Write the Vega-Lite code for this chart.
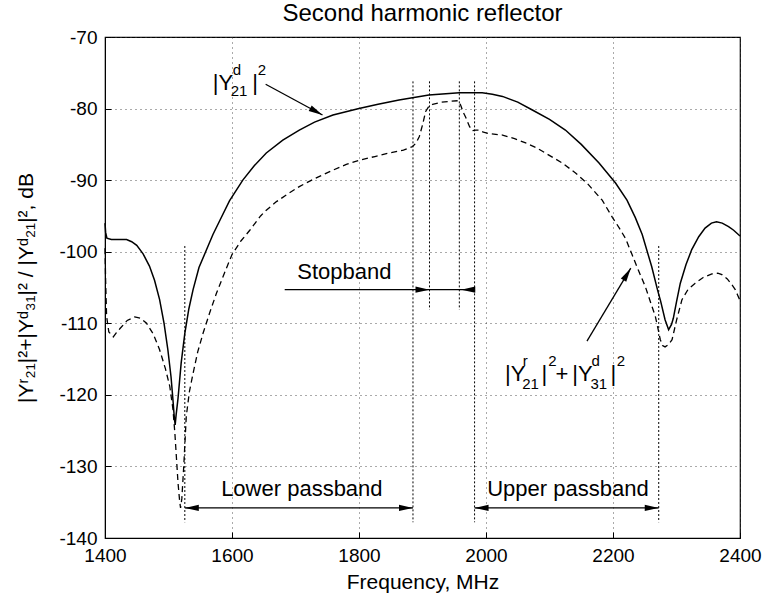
{
  "$schema": "https://vega.github.io/schema/vega-lite/v6.json",
  "width": 635,
  "height": 501,
  "autosize": {"type": "none"},
  "padding": {"left": 105, "top": 37, "right": 25, "bottom": 65},
  "background": "white",
  "title": {"text": "Second harmonic reflector", "fontSize": 24, "fontWeight": "normal", "font": "Liberation Sans", "color": "black", "offset": 2},
  "config": {
    "view": {"stroke": "black", "strokeWidth": 1.2},
    "axis": {
      "domainColor": "black", "tickColor": "black", "labelColor": "black", "titleColor": "black",
      "labelFont": "Liberation Sans", "titleFont": "Liberation Sans",
      "labelFontSize": 19, "titleFontSize": 21, "titleFontWeight": "normal",
      "gridColor": "#444", "gridDash": [1, 4], "gridWidth": 1, "gridOpacity": 0.9,
      "tickSize": -6, "tickWidth": 1, "labelPadding": 14, "labelFlush": false
    }
  },
  "datasets": {
    "solid": [
      {"f":1400,"v":-96.0},{"f":1401,"v":-97.3},{"f":1403,"v":-98.1},{"f":1410,"v":-98.3},{"f":1420,"v":-98.3},
      {"f":1434,"v":-98.3},{"f":1442,"v":-98.6},{"f":1450,"v":-99.1},{"f":1460,"v":-100.3},{"f":1470,"v":-102.0},
      {"f":1478,"v":-104.0},{"f":1486,"v":-106.7},{"f":1493,"v":-110.0},{"f":1499,"v":-113.7},{"f":1504,"v":-117.5},
      {"f":1507,"v":-120.7},{"f":1509,"v":-123.0},{"f":1510.5,"v":-124.2},{"f":1512,"v":-122.8},{"f":1515,"v":-120.5},
      {"f":1520,"v":-115.5},{"f":1525.7,"v":-111.4},{"f":1532,"v":-108.0},{"f":1538.7,"v":-105.3},{"f":1548,"v":-102.2},
      {"f":1560,"v":-99.7},{"f":1570,"v":-97.6},{"f":1581,"v":-95.6},{"f":1596,"v":-92.9},{"f":1617,"v":-90.0},
      {"f":1635,"v":-88.0},{"f":1654,"v":-86.2},{"f":1680,"v":-84.4},{"f":1706,"v":-83.0},{"f":1730,"v":-81.9},
      {"f":1759,"v":-80.9},{"f":1800,"v":-80.0},{"f":1830,"v":-79.4},{"f":1863,"v":-78.8},{"f":1910,"v":-78.1},
      {"f":1958,"v":-77.8},{"f":1994,"v":-77.8},{"f":2010,"v":-78.0},{"f":2026,"v":-78.3},{"f":2050,"v":-79.1},
      {"f":2073,"v":-80.2},{"f":2100,"v":-81.5},{"f":2125,"v":-83.0},{"f":2150,"v":-85.0},{"f":2178,"v":-87.6},
      {"f":2204,"v":-90.4},{"f":2222,"v":-92.8},{"f":2235,"v":-95.2},{"f":2246,"v":-97.6},{"f":2261,"v":-102.1},
      {"f":2270,"v":-105.3},{"f":2275,"v":-106.9},{"f":2282,"v":-109.5},{"f":2287.6,"v":-110.9},{"f":2292,"v":-110.2},
      {"f":2295,"v":-109.3},{"f":2300,"v":-107.0},{"f":2306,"v":-104.4},{"f":2315,"v":-101.8},{"f":2324,"v":-99.7},
      {"f":2335,"v":-97.9},{"f":2345,"v":-96.7},{"f":2355,"v":-96.0},{"f":2363,"v":-95.8},{"f":2372,"v":-96.0},
      {"f":2382,"v":-96.5},{"f":2390,"v":-97.0},{"f":2400,"v":-97.8}
    ],
    "dashed": [
      {"f":1400,"v":-99.5},{"f":1401,"v":-104},{"f":1402.5,"v":-109},{"f":1406,"v":-111.2},{"f":1413,"v":-111.9},
      {"f":1418,"v":-111.3},{"f":1424,"v":-110.7},{"f":1435,"v":-109.6},{"f":1447,"v":-109.1},{"f":1456,"v":-109.3},
      {"f":1465.5,"v":-110.0},{"f":1476,"v":-111.5},{"f":1486,"v":-113.7},{"f":1495,"v":-116.3},{"f":1502,"v":-118.8},
      {"f":1507,"v":-122.0},{"f":1510,"v":-125.3},{"f":1513,"v":-129.5},{"f":1515,"v":-132.3},{"f":1517.5,"v":-134.8},
      {"f":1519,"v":-135.8},{"f":1521,"v":-134.5},{"f":1524,"v":-130.0},{"f":1528,"v":-123.0},{"f":1533,"v":-119.5},
      {"f":1538.7,"v":-117.0},{"f":1546,"v":-114.0},{"f":1554.4,"v":-111.4},{"f":1565,"v":-108.5},{"f":1575.5,"v":-105.8},
      {"f":1588,"v":-103.0},{"f":1600,"v":-100.4},{"f":1614,"v":-98.5},{"f":1628,"v":-97.0},{"f":1645,"v":-95.0},
      {"f":1654,"v":-94.2},{"f":1670,"v":-93.0},{"f":1690,"v":-91.8},{"f":1706,"v":-90.9},{"f":1730,"v":-89.8},
      {"f":1759,"v":-88.6},{"f":1780,"v":-87.8},{"f":1801,"v":-87.2},{"f":1825,"v":-86.7},{"f":1848,"v":-86.2},
      {"f":1870,"v":-85.8},{"f":1884.5,"v":-85.3},{"f":1890,"v":-84.8},{"f":1895,"v":-83.9},{"f":1900,"v":-82.3},
      {"f":1905,"v":-80.4},{"f":1910,"v":-79.7},{"f":1916,"v":-79.4},{"f":1930,"v":-79.1},{"f":1942,"v":-79.0},
      {"f":1956,"v":-78.9},{"f":1960,"v":-79.5},{"f":1964,"v":-80.5},{"f":1968,"v":-81.2},{"f":1974,"v":-82.5},
      {"f":1978.6,"v":-83.1},{"f":1984,"v":-83.0},{"f":1989,"v":-83.0},{"f":1996,"v":-83.3},{"f":2005,"v":-83.5},
      {"f":2026,"v":-83.7},{"f":2045,"v":-84.2},{"f":2062.5,"v":-84.8},{"f":2080,"v":-85.5},{"f":2099,"v":-86.5},
      {"f":2120,"v":-87.6},{"f":2141,"v":-89.0},{"f":2160,"v":-90.5},{"f":2183,"v":-92.8},{"f":2199,"v":-95.2},
      {"f":2210,"v":-96.7},{"f":2220,"v":-98.2},{"f":2230,"v":-100.4},{"f":2240,"v":-102.6},{"f":2251,"v":-104.9},
      {"f":2260,"v":-107.3},{"f":2266.6,"v":-109.0},{"f":2271,"v":-110.8},{"f":2274.5,"v":-112.3},{"f":2278,"v":-113.1},
      {"f":2282,"v":-113.3},{"f":2287,"v":-113.0},{"f":2293,"v":-112.3},{"f":2300,"v":-109.6},{"f":2308.6,"v":-106.7},
      {"f":2318,"v":-105.3},{"f":2329.5,"v":-104.4},{"f":2342,"v":-103.6},{"f":2355.8,"v":-103.1},{"f":2365,"v":-103.0},
      {"f":2371.5,"v":-103.2},{"f":2380,"v":-103.8},{"f":2388,"v":-104.7},{"f":2392.5,"v":-105.3},{"f":2396,"v":-106.0},
      {"f":2400,"v":-106.8}
    ],
    "markers": [
      {"f":1525.7,"top":-99.2,"bottom":-137.8},
      {"f":1885,"top":-76.2,"bottom":-137.8},
      {"f":1911,"top":-76.2,"bottom":-108.1},
      {"f":1958,"top":-76.2,"bottom":-108.1},
      {"f":1982,"top":-76.2,"bottom":-137.8},
      {"f":2272,"top":-99.2,"bottom":-137.8}
    ],
    "arrows": [
      {"f1":1653,"v1":-76.6,"f2":1742.5,"v2":-80.9},
      {"f1":2159,"v1":-112.5,"f2":2228,"v2":-102.3},
      {"f1":1683,"v1":-105.3,"f2":1982,"v2":-105.3},
      {"f1":1525.7,"v1":-135.8,"f2":1885,"v2":-135.8},
      {"f1":1982,"v1":-135.8,"f2":2272,"v2":-135.8}
    ],
    "headsRight": [
      {"f":1885,"v":-135.8},{"f":2272,"v":-135.8},{"f":1911,"v":-105.3}
    ],
    "headsLeft": [
      {"f":1525.7,"v":-135.8},{"f":1982,"v":-135.8},{"f":1961,"v":-105.3}
    ],
    "labelPieces": [
      {"t":"|Y","f":1569.7,"v":-77.4,"role":"main"},
      {"t":"d","f":1601,"v":-75.3,"role":"script"},
      {"t":"21","f":1598,"v":-78.2,"role":"script"},
      {"t":"|","f":1632,"v":-77.4,"role":"main"},
      {"t":"2","f":1640.4,"v":-75.3,"role":"script"},
      {"t":"|Y","f":2030,"v":-118.1,"role":"main"},
      {"t":"r","f":2058,"v":-116.0,"role":"script"},
      {"t":"21","f":2057,"v":-119.2,"role":"script"},
      {"t":"|","f":2087.5,"v":-118.1,"role":"main"},
      {"t":"2","f":2098,"v":-115.9,"role":"script"},
      {"t":"+","f":2109.6,"v":-118.1,"role":"main"},
      {"t":"|Y","f":2135.7,"v":-118.1,"role":"main"},
      {"t":"d","f":2166,"v":-116.0,"role":"script"},
      {"t":"31","f":2164.5,"v":-119.2,"role":"script"},
      {"t":"|","f":2196,"v":-118.1,"role":"main"},
      {"t":"2","f":2206,"v":-115.9,"role":"script"}
    ],
    "notes": [
      {"t":"Stopband","f":1777,"v":-103.8},
      {"t":"Lower passband","f":1710,"v":-134.1},
      {"t":"Upper passband","f":2129,"v":-134.1}
    ]
  },
  "layer": [
    {
      "data": {"name": "solid"},
      "mark": {"type": "line", "color": "black", "strokeWidth": 1.5},
      "encoding": {
        "x": {"field": "f", "type": "quantitative", "scale": {"domain": [1400, 2400], "nice": false, "zero": false},
              "axis": {"values": [1400, 1600, 1800, 2000, 2200, 2400], "labelExpr": "'' + datum.value", "title": "Frequency, MHz", "titlePadding": 6, "labelPadding": 14}},
        "y": {"field": "v", "type": "quantitative", "scale": {"domain": [-140, -70], "nice": false, "zero": false},
              "axis": {"values": [-140, -130, -120, -110, -100, -90, -80, -70], "labelExpr": "'' + datum.value", "title": "|Yʳ₂₁|²+|Yᵈ₃₁|² / |Yᵈ₂₁|², dB", "titlePadding": 22, "labelPadding": 14}}
      }
    },
    {
      "data": {"name": "dashed"},
      "mark": {"type": "line", "color": "black", "strokeWidth": 1.3, "strokeDash": [6, 4]},
      "encoding": {
        "x": {"field": "f", "type": "quantitative"},
        "y": {"field": "v", "type": "quantitative"}
      }
    },
    {
      "data": {"name": "markers"},
      "mark": {"type": "rule", "color": "black", "strokeWidth": 1, "strokeDash": [2, 2]},
      "encoding": {
        "x": {"field": "f", "type": "quantitative"},
        "y": {"field": "top", "type": "quantitative"},
        "y2": {"field": "bottom"}
      }
    },
    {
      "data": {"name": "arrows"},
      "mark": {"type": "rule", "color": "black", "strokeWidth": 1.3},
      "encoding": {
        "x": {"field": "f1", "type": "quantitative"},
        "y": {"field": "v1", "type": "quantitative"},
        "x2": {"field": "f2"},
        "y2": {"field": "v2"}
      }
    },
    {
      "data": {"name": "headsRight"},
      "mark": {"type": "point", "shape": "M0,0L-2,-0.45L-2,0.45Z", "filled": true, "color": "black", "size": 196, "opacity": 1},
      "encoding": {
        "x": {"field": "f", "type": "quantitative"},
        "y": {"field": "v", "type": "quantitative"}
      }
    },
    {
      "data": {"name": "headsLeft"},
      "mark": {"type": "point", "shape": "M0,0L2,-0.45L2,0.45Z", "filled": true, "color": "black", "size": 196, "opacity": 1},
      "encoding": {
        "x": {"field": "f", "type": "quantitative"},
        "y": {"field": "v", "type": "quantitative"}
      }
    },
    {
      "data": {"values": [{"f": 1742.5, "v": -80.9}]},
      "mark": {"type": "point", "shape": "M0,0L-2,-0.45L-2,0.45Z", "filled": true, "color": "black", "size": 196, "opacity": 1, "angle": 28.5},
      "encoding": {
        "x": {"field": "f", "type": "quantitative"},
        "y": {"field": "v", "type": "quantitative"}
      }
    },
    {
      "data": {"values": [{"f": 2228, "v": -102.3}]},
      "mark": {"type": "point", "shape": "M0,0L-2,-0.45L-2,0.45Z", "filled": true, "color": "black", "size": 196, "opacity": 1, "angle": -58.9},
      "encoding": {
        "x": {"field": "f", "type": "quantitative"},
        "y": {"field": "v", "type": "quantitative"}
      }
    },
    {
      "data": {"name": "labelPieces"},
      "transform": [{"filter": "datum.role === 'main'"}],
      "mark": {"type": "text", "align": "left", "baseline": "alphabetic", "font": "Liberation Sans", "fontSize": 22, "color": "black"},
      "encoding": {
        "x": {"field": "f", "type": "quantitative"},
        "y": {"field": "v", "type": "quantitative"},
        "text": {"field": "t"}
      }
    },
    {
      "data": {"name": "labelPieces"},
      "transform": [{"filter": "datum.role === 'script'"}],
      "mark": {"type": "text", "align": "left", "baseline": "alphabetic", "font": "Liberation Sans", "fontSize": 15, "color": "black"},
      "encoding": {
        "x": {"field": "f", "type": "quantitative"},
        "y": {"field": "v", "type": "quantitative"},
        "text": {"field": "t"}
      }
    },
    {
      "data": {"name": "notes"},
      "mark": {"type": "text", "align": "center", "baseline": "alphabetic", "font": "Liberation Sans", "fontSize": 22, "color": "black"},
      "encoding": {
        "x": {"field": "f", "type": "quantitative"},
        "y": {"field": "v", "type": "quantitative"},
        "text": {"field": "t"}
      }
    }
  ]
}
